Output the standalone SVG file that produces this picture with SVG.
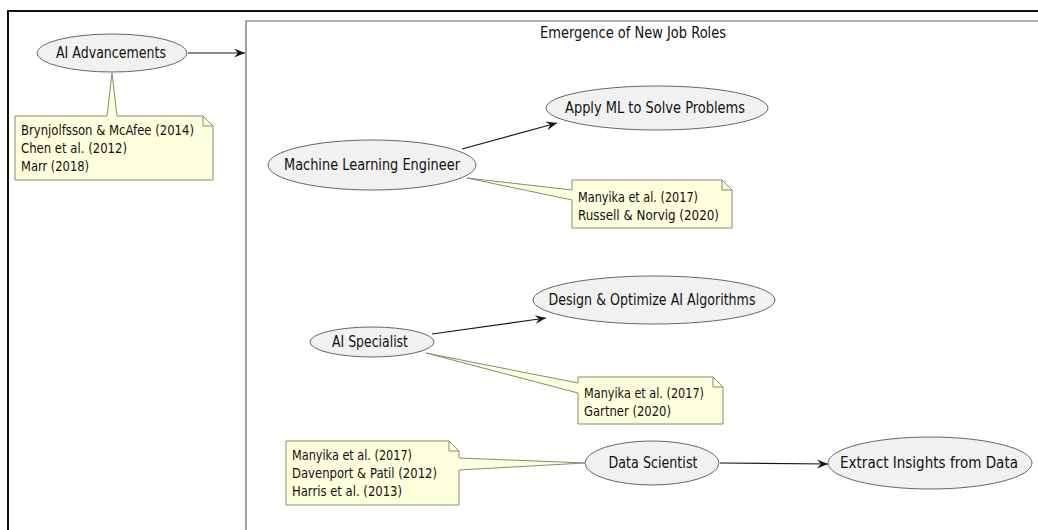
<svg xmlns="http://www.w3.org/2000/svg" width="1038" height="530" viewBox="0 0 1038 530">
  <defs>
    <marker id="head" markerUnits="userSpaceOnUse" markerWidth="13" markerHeight="10" refX="11" refY="4.5" orient="auto">
      <path d="M0,0 L11,4.5 L0,9 L4,4.5 Z" fill="#181818"/>
    </marker>
    <style>
      .uc { fill: #F1F1F1; stroke: #666; stroke-width: 1; }
      .note { fill: #FEFFDD; stroke: #8a8a70; stroke-width: 1; }
      .fold { fill: none; stroke: #8a8a70; stroke-width: 1; }
      .lbl { font-family: "DejaVu Sans", sans-serif; font-size: 15px; fill: #111; text-anchor: middle; }
      .ntxt { font-family: "DejaVu Sans", sans-serif; font-size: 13.5px; fill: #111; }
      .edge { fill: none; stroke: #181818; stroke-width: 1.2; marker-end: url(#head); }
    </style>
  </defs>
  <rect width="1038" height="530" fill="#fff"/>

  <!-- outer frame -->
  <path d="M8,540 L8,11 L1045,11" fill="none" stroke="#111" stroke-width="2"/>

  <!-- package -->
  <g id="pkg-emergence">
    <path d="M246,540 L246,21 L1045,21" fill="none" stroke="#666" stroke-width="1.2"/>
    <text class="lbl" x="633" y="38" textLength="186" lengthAdjust="spacingAndGlyphs">Emergence of New Job Roles</text>
  </g>

  <!-- connectors -->
  <g id="connectors">
    <line class="edge" x1="462" y1="149" x2="557" y2="123"/>
    <line class="edge" x1="188" y1="53" x2="245" y2="53"/>
    <line class="edge" x1="432" y1="334" x2="546" y2="318"/>
    <line class="edge" x1="720" y1="463" x2="828" y2="464"/>
  </g>

  <g id="ai-advancements">
    <ellipse class="uc" cx="112" cy="53" rx="75" ry="19"/>
    <text class="lbl" x="111" y="58" textLength="110" lengthAdjust="spacingAndGlyphs">AI Advancements</text>
  </g>
  <g id="note-ai-advancements">
    <path class="note" d="M15,116 L107,116 L112,73 L117,116 L203,116 L213,126 L213,180 L15,180 Z"/>
    <path class="fold" d="M203,116 L203,126 L213,126"/>
    <text class="ntxt" x="21" y="135" textLength="173" lengthAdjust="spacingAndGlyphs">Brynjolfsson &amp; McAfee (2014)</text>
    <text class="ntxt" x="21" y="153" textLength="106" lengthAdjust="spacingAndGlyphs">Chen et al. (2012)</text>
    <text class="ntxt" x="21" y="171" textLength="68" lengthAdjust="spacingAndGlyphs">Marr (2018)</text>
  </g>

  <g id="ml-engineer">
    <ellipse class="uc" cx="372" cy="165" rx="104" ry="25"/>
    <text class="lbl" x="372" y="170" textLength="176" lengthAdjust="spacingAndGlyphs">Machine Learning Engineer</text>
  </g>
  <g id="apply-ml">
    <ellipse class="uc" cx="657" cy="108" rx="111" ry="22"/>
    <text class="lbl" x="655" y="113" textLength="180" lengthAdjust="spacingAndGlyphs">Apply ML to Solve Problems</text>
  </g>
  <g id="note-ml-engineer">
    <path class="note" d="M572,180 L722,180 L732,190 L732,228 L572,228 L572,200 L467,178 L572,190 Z"/>
    <path class="fold" d="M722,180 L722,190 L732,190"/>
    <text class="ntxt" x="578" y="202" textLength="120" lengthAdjust="spacingAndGlyphs">Manyika et al. (2017)</text>
    <text class="ntxt" x="578" y="220" textLength="141" lengthAdjust="spacingAndGlyphs">Russell &amp; Norvig (2020)</text>
  </g>

  <g id="ai-specialist">
    <ellipse class="uc" cx="372" cy="342" rx="62" ry="15"/>
    <text class="lbl" x="370" y="347" textLength="76" lengthAdjust="spacingAndGlyphs">AI Specialist</text>
  </g>
  <g id="design-optimize">
    <ellipse class="uc" cx="654" cy="300" rx="121" ry="24"/>
    <text class="lbl" x="652" y="305" textLength="207" lengthAdjust="spacingAndGlyphs">Design &amp; Optimize AI Algorithms</text>
  </g>
  <g id="note-ai-specialist">
    <path class="note" d="M578,377 L713,377 L723,387 L723,424 L578,424 L578,393 L426,353 L578,383 Z"/>
    <path class="fold" d="M713,377 L713,387 L723,387"/>
    <text class="ntxt" x="584" y="398" textLength="120" lengthAdjust="spacingAndGlyphs">Manyika et al. (2017)</text>
    <text class="ntxt" x="584" y="416" textLength="87" lengthAdjust="spacingAndGlyphs">Gartner (2020)</text>
  </g>

  <g id="data-scientist">
    <ellipse class="uc" cx="652" cy="463" rx="67" ry="22"/>
    <text class="lbl" x="653" y="468" textLength="89" lengthAdjust="spacingAndGlyphs">Data Scientist</text>
  </g>
  <g id="extract-insights">
    <ellipse class="uc" cx="930" cy="463" rx="102" ry="26"/>
    <text class="lbl" x="929" y="468" textLength="178" lengthAdjust="spacingAndGlyphs">Extract Insights from Data</text>
  </g>
  <g id="note-data-scientist">
    <path class="note" d="M286,441 L449,441 L459,451 L459,458 L585,463 L459,470 L459,505 L286,505 Z"/>
    <path class="fold" d="M449,441 L449,451 L459,451"/>
    <text class="ntxt" x="292" y="460" textLength="120" lengthAdjust="spacingAndGlyphs">Manyika et al. (2017)</text>
    <text class="ntxt" x="292" y="478" textLength="145" lengthAdjust="spacingAndGlyphs">Davenport &amp; Patil (2012)</text>
    <text class="ntxt" x="292" y="496" textLength="110" lengthAdjust="spacingAndGlyphs">Harris et al. (2013)</text>
  </g>
</svg>
